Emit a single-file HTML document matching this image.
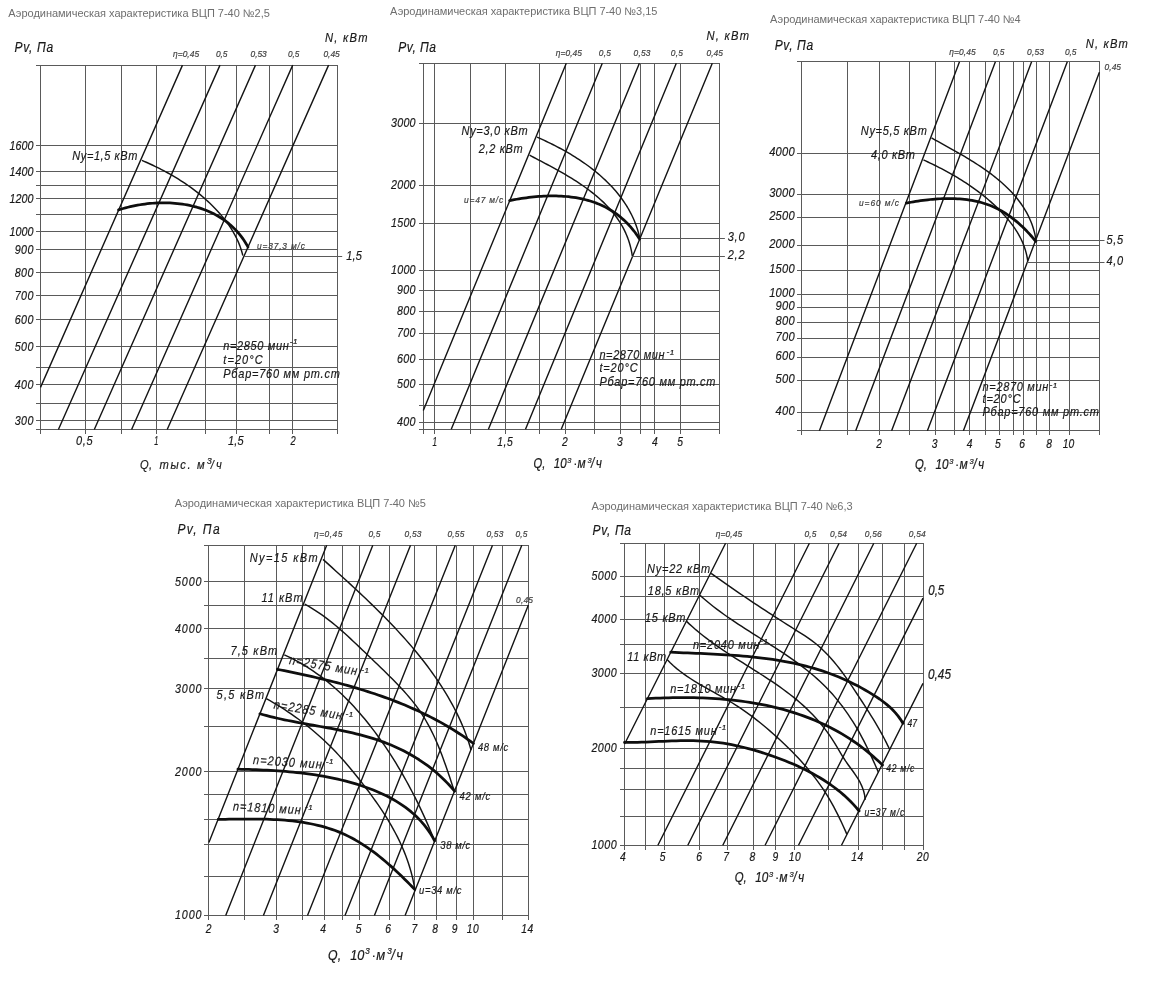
<!DOCTYPE html>
<html><head><meta charset="utf-8"><style>
html,body{margin:0;padding:0;background:#fff;}
svg{display:block;filter:grayscale(1);}
text{font-family:"Liberation Sans", sans-serif;}
</style></head><body>
<svg width="1152" height="982" viewBox="0 0 1152 982">
<rect width="1152" height="982" fill="#fff"/>
<path d="M36 65.5H338M36 145.5H338M36 171.5H338M36 185.5H338M36 198.5H338M36 214.5H338M36 231.5H338M36 249.5H338M36 272.5H338M36 295.5H338M36 319.5H338M36 346.5H338M36 367.5H338M36 384.5H338M36 403.5H338M36 420.5H338M36 429.5H338M40.5 65V434M85.5 65V434M121.5 65V434M156.5 65V434M205.5 65V434M236.5 65V434M269.5 65V434M292.5 65V434M337.5 65V434" stroke="#5a5a5a" stroke-width="1.0" fill="none"/>
<path d="M182.5 65.1L40.5 387.4M220 65.1L58.4 429.5M255.5 65.1L94.3 429.5M292.7 65.1L131.6 429.5M328.6 65.1L167.2 429.5" stroke="#141414" stroke-width="1.4" fill="none"/>
<path d="M244 256.5L342.2 256.5" stroke="#5a5a5a" stroke-width="1.0" fill="none"/>
<path d="M141.9 160.4 L144.08 161.33 L146.27 162.27 L148.45 163.25 L150.63 164.24 L152.81 165.25 L154.99 166.29 L157.16 167.35 L159.33 168.44 L161.49 169.54 L163.65 170.67 L165.8 171.82 L167.95 172.99 L170.08 174.19 L172.21 175.41 L174.32 176.65 L176.43 177.92 L178.52 179.21 L180.6 180.52 L182.66 181.85 L184.71 183.21 L186.75 184.59 L188.77 186 L190.77 187.43 L192.75 188.88 L194.72 190.35 L196.66 191.85 L198.58 193.38 L200.49 194.92 L202.37 196.49 L204.22 198.09 L206.05 199.71 L207.86 201.35 L209.64 203.02 L211.4 204.71 L213.12 206.42 L214.82 208.16 L216.49 209.93 L218.13 211.71 L219.73 213.53 L221.31 215.36 L222.85 217.23 L224.36 219.11 L225.83 221.02 L227.27 222.96 L228.66 224.93 L230.02 226.92 L231.33 228.93 L232.6 230.98 L233.81 233.05 L234.98 235.16 L236.09 237.29 L237.15 239.45 L238.15 241.65 L239.09 243.87 L239.96 246.13 L240.78 248.42 L241.52 250.74 L242.2 253.1 L242.81 255.5" stroke="#141414" stroke-width="1.45" fill="none" stroke-linejoin="round"/>
<path d="M118.51 209.91 L120.81 209.2 L123.14 208.52 L125.49 207.87 L127.87 207.26 L130.26 206.68 L132.67 206.15 L135.09 205.65 L137.53 205.19 L139.98 204.76 L142.45 204.38 L144.92 204.04 L147.41 203.73 L149.9 203.47 L152.4 203.25 L154.9 203.08 L157.4 202.94 L159.91 202.85 L162.42 202.81 L164.93 202.81 L167.43 202.86 L169.93 202.95 L172.43 203.09 L174.92 203.27 L177.4 203.51 L179.87 203.79 L182.33 204.13 L184.77 204.51 L187.21 204.95 L189.63 205.43 L192.03 205.97 L194.41 206.56 L196.78 207.2 L199.12 207.9 L201.44 208.65 L203.74 209.46 L206.01 210.33 L208.25 211.24 L210.47 212.22 L212.66 213.26 L214.81 214.35 L216.94 215.5 L219.03 216.71 L221.08 217.98 L223.1 219.31 L225.08 220.71 L227.02 222.16 L228.92 223.68 L230.78 225.26 L232.59 226.91 L234.36 228.62 L236.08 230.39 L237.75 232.24 L239.38 234.14 L240.95 236.12 L242.47 238.16 L243.94 240.27 L245.35 242.45 L246.7 244.7 L248 247.02" stroke="#140c0c" stroke-width="2.75" fill="none" stroke-linecap="round" stroke-linejoin="round"/>
<path d="M419 63.5H720M419 123.5H720M419 185.5H720M419 223.5H720M419 270.5H720M419 290.5H720M419 311.5H720M419 333.5H720M419 359.5H720M419 384.5H720M419 405.5H720M419 422.5H720M419 429.5H720M423.5 63V434M434.5 63V434M470.5 63V434M505.5 63V434M539.5 63V434M565.5 63V434M594.5 63V434M620.5 63V434M640.5 63V434M654.5 63V434M680.5 63V434M719.5 63V434" stroke="#5a5a5a" stroke-width="1.0" fill="none"/>
<path d="M566.3 63.2L423.3 410.6M602.3 63.2L451.25 429.2M639.4 63.2L488.4 429.2M676.3 63.2L525.5 429.2M712.3 63.2L561.25 429.2" stroke="#141414" stroke-width="1.4" fill="none"/>
<path d="M639.7 238.5L724.9 238.5" stroke="#5a5a5a" stroke-width="1.0" fill="none"/>
<path d="M632.3 256.5L724.9 256.5" stroke="#5a5a5a" stroke-width="1.0" fill="none"/>
<path d="M537.11 137.2 L539.33 138.18 L541.56 139.18 L543.79 140.2 L546.03 141.24 L548.27 142.31 L550.51 143.4 L552.75 144.51 L554.99 145.65 L557.23 146.8 L559.46 147.99 L561.69 149.19 L563.92 150.42 L566.13 151.67 L568.34 152.95 L570.54 154.24 L572.73 155.57 L574.91 156.92 L577.07 158.29 L579.22 159.68 L581.36 161.11 L583.47 162.55 L585.57 164.02 L587.65 165.52 L589.71 167.04 L591.75 168.59 L593.77 170.16 L595.76 171.76 L597.72 173.39 L599.67 175.04 L601.58 176.71 L603.46 178.42 L605.32 180.15 L607.14 181.9 L608.93 183.69 L610.68 185.5 L612.41 187.34 L614.09 189.2 L615.74 191.1 L617.35 193.02 L618.92 194.97 L620.45 196.94 L621.94 198.95 L623.38 200.98 L624.78 203.04 L626.13 205.13 L627.44 207.25 L628.7 209.4 L629.91 211.58 L631.07 213.79 L632.17 216.02 L633.23 218.29 L634.23 220.58 L635.17 222.91 L636.06 225.26 L636.89 227.65 L637.66 230.07 L638.37 232.51 L639.02 234.99 L639.61 237.5" stroke="#141414" stroke-width="1.45" fill="none" stroke-linejoin="round"/>
<path d="M529.6 155.2 L531.76 156.34 L533.93 157.49 L536.11 158.64 L538.31 159.8 L540.52 160.96 L542.74 162.14 L544.97 163.32 L547.21 164.51 L549.45 165.71 L551.7 166.93 L553.95 168.15 L556.2 169.39 L558.44 170.64 L560.69 171.91 L562.93 173.19 L565.17 174.49 L567.39 175.8 L569.61 177.13 L571.82 178.48 L574.01 179.85 L576.19 181.23 L578.36 182.64 L580.5 184.07 L582.63 185.52 L584.74 186.99 L586.82 188.49 L588.88 190.01 L590.92 191.56 L592.92 193.13 L594.9 194.73 L596.85 196.35 L598.76 198 L600.65 199.69 L602.49 201.4 L604.3 203.14 L606.07 204.91 L607.8 206.71 L609.49 208.55 L611.13 210.42 L612.73 212.33 L614.28 214.27 L615.78 216.24 L617.24 218.25 L618.64 220.3 L619.98 222.39 L621.28 224.51 L622.51 226.68 L623.69 228.88 L624.8 231.13 L625.86 233.41 L626.85 235.74 L627.78 238.12 L628.64 240.53 L629.43 243 L630.15 245.5 L630.8 248.06 L631.38 250.66 L631.88 253.31 L632.3 256" stroke="#141414" stroke-width="1.45" fill="none" stroke-linejoin="round"/>
<path d="M509.6 200.61 L511.95 200.15 L514.31 199.7 L516.69 199.27 L519.09 198.86 L521.5 198.47 L523.93 198.11 L526.37 197.77 L528.83 197.45 L531.29 197.16 L533.76 196.9 L536.24 196.67 L538.73 196.46 L541.22 196.29 L543.72 196.15 L546.22 196.04 L548.72 195.97 L551.22 195.93 L553.72 195.92 L556.22 195.96 L558.71 196.03 L561.2 196.15 L563.68 196.3 L566.15 196.5 L568.62 196.74 L571.07 197.02 L573.52 197.35 L575.95 197.73 L578.37 198.16 L580.77 198.63 L583.15 199.15 L585.52 199.73 L587.87 200.35 L590.2 201.03 L592.5 201.77 L594.78 202.56 L597.04 203.41 L599.28 204.31 L601.48 205.28 L603.66 206.3 L605.81 207.39 L607.93 208.53 L610.01 209.74 L612.07 211.01 L614.09 212.34 L616.07 213.73 L618.02 215.17 L619.93 216.68 L621.8 218.24 L623.64 219.86 L625.43 221.54 L627.19 223.27 L628.9 225.06 L630.56 226.91 L632.19 228.81 L633.76 230.77 L635.29 232.78 L636.78 234.84 L638.21 236.96 L639.59 239.13" stroke="#140c0c" stroke-width="2.75" fill="none" stroke-linecap="round" stroke-linejoin="round"/>
<path d="M797 61.5H1100M797 153.5H1100M797 194.5H1100M797 217.5H1100M797 245.5H1100M797 270.5H1100M797 294.5H1100M797 307.5H1100M797 322.5H1100M797 338.5H1100M797 357.5H1100M797 380.5H1100M797 412.5H1100M797 430.5H1100M801.5 61V435M847.5 61V435M879.5 61V435M909.5 61V435M935.5 61V435M954.5 61V435M969.5 61V435M985.5 61V435M999.5 61V435M1013.5 61V435M1023.5 61V435M1036.5 61V435M1049.5 61V435M1069.5 61V435M1099.5 61V435" stroke="#5a5a5a" stroke-width="1.0" fill="none"/>
<path d="M959.5 61.8L819.4 430.7M995.4 61.8L855.7 430.7M1031.6 61.8L891.6 430.7M1067.3 61.8L927.4 430.7M1099.4 72.3L963.4 430.7" stroke="#141414" stroke-width="1.4" fill="none"/>
<path d="M1035.3 240.5L1104.5 240.5" stroke="#5a5a5a" stroke-width="1.0" fill="none"/>
<path d="M1027.2 262.5L1104.5 262.5" stroke="#5a5a5a" stroke-width="1.0" fill="none"/>
<path d="M931.51 137.9 L933.62 139.08 L935.75 140.26 L937.9 141.46 L940.06 142.66 L942.24 143.86 L944.44 145.08 L946.64 146.3 L948.86 147.53 L951.09 148.78 L953.32 150.03 L955.56 151.3 L957.8 152.58 L960.04 153.87 L962.28 155.17 L964.52 156.49 L966.76 157.83 L969 159.18 L971.22 160.55 L973.44 161.93 L975.65 163.33 L977.84 164.75 L980.03 166.19 L982.2 167.65 L984.35 169.13 L986.48 170.62 L988.59 172.15 L990.68 173.69 L992.75 175.26 L994.79 176.85 L996.8 178.46 L998.79 180.1 L1000.75 181.77 L1002.67 183.46 L1004.56 185.18 L1006.41 186.92 L1008.23 188.7 L1010.01 190.5 L1011.75 192.33 L1013.44 194.2 L1015.1 196.09 L1016.7 198.02 L1018.26 199.98 L1019.77 201.97 L1021.23 204 L1022.64 206.06 L1023.99 208.15 L1025.29 210.28 L1026.52 212.45 L1027.7 214.66 L1028.82 216.9 L1029.87 219.18 L1030.86 221.5 L1031.78 223.86 L1032.64 226.26 L1033.42 228.7 L1034.13 231.19 L1034.77 233.71 L1035.33 236.28 L1035.81 238.9" stroke="#141414" stroke-width="1.45" fill="none" stroke-linejoin="round"/>
<path d="M923.41 159.9 L925.66 160.93 L927.92 161.98 L930.18 163.05 L932.45 164.14 L934.71 165.25 L936.98 166.38 L939.24 167.53 L941.5 168.71 L943.76 169.9 L946.01 171.11 L948.26 172.34 L950.5 173.6 L952.73 174.87 L954.96 176.17 L957.17 177.49 L959.38 178.82 L961.58 180.19 L963.76 181.57 L965.93 182.98 L968.09 184.4 L970.23 185.86 L972.35 187.33 L974.46 188.83 L976.55 190.35 L978.62 191.89 L980.67 193.46 L982.7 195.05 L984.71 196.66 L986.7 198.3 L988.66 199.96 L990.6 201.65 L992.51 203.36 L994.39 205.09 L996.25 206.86 L998.08 208.64 L999.88 210.45 L1001.64 212.29 L1003.38 214.15 L1005.08 216.04 L1006.75 217.95 L1008.39 219.89 L1009.98 221.86 L1011.53 223.86 L1013.03 225.89 L1014.49 227.95 L1015.89 230.05 L1017.23 232.18 L1018.52 234.34 L1019.74 236.55 L1020.89 238.79 L1021.97 241.07 L1022.98 243.39 L1023.91 245.75 L1024.77 248.16 L1025.54 250.61 L1026.22 253.11 L1026.81 255.66 L1027.31 258.25 L1027.7 260.9" stroke="#141414" stroke-width="1.45" fill="none" stroke-linejoin="round"/>
<path d="M906.3 203.1 L908.62 202.66 L910.97 202.23 L913.33 201.82 L915.7 201.42 L918.09 201.05 L920.5 200.69 L922.92 200.36 L925.34 200.05 L927.78 199.76 L930.23 199.5 L932.68 199.27 L935.14 199.07 L937.6 198.89 L940.07 198.75 L942.53 198.64 L945 198.57 L947.47 198.53 L949.94 198.53 L952.4 198.57 L954.86 198.65 L957.32 198.77 L959.76 198.93 L962.2 199.13 L964.63 199.39 L967.05 199.68 L969.45 200.03 L971.85 200.43 L974.22 200.88 L976.58 201.38 L978.93 201.93 L981.26 202.54 L983.56 203.21 L985.85 203.94 L988.11 204.72 L990.35 205.57 L992.57 206.47 L994.75 207.45 L996.92 208.48 L999.05 209.58 L1001.16 210.74 L1003.24 211.95 L1005.29 213.22 L1007.31 214.55 L1009.31 215.92 L1011.28 217.35 L1013.22 218.82 L1015.13 220.34 L1017.01 221.91 L1018.87 223.51 L1020.69 225.16 L1022.49 226.84 L1024.26 228.56 L1026 230.31 L1027.7 232.09 L1029.38 233.9 L1031.03 235.74 L1032.65 237.61 L1034.24 239.5 L1035.8 241.41" stroke="#140c0c" stroke-width="2.75" fill="none" stroke-linecap="round" stroke-linejoin="round"/>
<path d="M204 545.5H529M204 581.5H529M204 605.5H529M204 628.5H529M204 658.5H529M204 688.5H529M204 726.5H529M204 771.5H529M204 794.5H529M204 819.5H529M204 844.5H529M204 876.5H529M204 915.5H529M208.5 545V920M244.5 545V920M276.5 545V920M302.5 545V920M324.5 545V920M342.5 545V920M359.5 545V920M389.5 545V920M414.5 545V920M436.5 545V920M456.5 545V920M473.5 545V920M502.5 545V920M528.5 545V920" stroke="#5a5a5a" stroke-width="1.0" fill="none"/>
<path d="M326.7 545.2L208.9 842.6M372.8 545.2L225.7 915.4M410.5 545.2L263.4 915.4M455.3 545.2L307.5 915.4M492.5 545.2L345 915.4M521.8 545.2L374.4 915.4M528.4 605.1L405.1 915.4" stroke="#141414" stroke-width="1.4" fill="none"/>
<path d="M323 559.4 L326.05 562.15 L329.1 564.9 L332.15 567.66 L335.21 570.43 L338.27 573.2 L341.33 575.98 L344.39 578.77 L347.45 581.57 L350.51 584.38 L353.56 587.2 L356.6 590.03 L359.64 592.87 L362.67 595.72 L365.69 598.59 L368.7 601.47 L371.7 604.36 L374.68 607.27 L377.65 610.19 L380.61 613.13 L383.55 616.08 L386.47 619.05 L389.37 622.04 L392.25 625.05 L395.12 628.08 L397.95 631.12 L400.77 634.19 L403.55 637.27 L406.32 640.38 L409.05 643.5 L411.76 646.65 L414.43 649.83 L417.08 653.02 L419.69 656.24 L422.26 659.49 L424.81 662.75 L427.31 666.05 L429.78 669.37 L432.21 672.72 L434.6 676.09 L436.95 679.5 L439.26 682.93 L441.52 686.39 L443.74 689.88 L445.91 693.4 L448.02 696.95 L450.09 700.53 L452.09 704.14 L454.04 707.78 L455.93 711.45 L457.76 715.16 L459.52 718.9 L461.22 722.67 L462.85 726.47 L464.4 730.31 L465.88 734.18 L467.29 738.08 L468.62 742.02 L469.86 745.99 L471.03 750" stroke="#141414" stroke-width="1.45" fill="none" stroke-linejoin="round"/>
<path d="M304.7 604.2 L308.37 606.24 L311.95 608.36 L315.47 610.57 L318.92 612.85 L322.3 615.21 L325.63 617.63 L328.9 620.12 L332.13 622.66 L335.31 625.26 L338.45 627.9 L341.55 630.59 L344.62 633.32 L347.67 636.08 L350.7 638.87 L353.7 641.69 L356.7 644.52 L359.68 647.37 L362.66 650.23 L365.65 653.1 L368.63 655.97 L371.63 658.83 L374.62 661.7 L377.61 664.58 L380.6 667.46 L383.58 670.35 L386.54 673.25 L389.48 676.17 L392.41 679.1 L395.3 682.06 L398.17 685.03 L401 688.04 L403.8 691.07 L406.54 694.13 L409.23 697.24 L411.86 700.39 L414.41 703.59 L416.88 706.84 L419.27 710.16 L421.56 713.54 L423.75 716.99 L425.85 720.5 L427.87 724.06 L429.81 727.68 L431.67 731.34 L433.47 735.05 L435.19 738.8 L436.85 742.58 L438.46 746.4 L440.01 750.25 L441.52 754.11 L442.98 758 L444.4 761.9 L445.79 765.82 L447.16 769.74 L448.49 773.66 L449.81 777.58 L451.11 781.5 L452.41 785.41 L453.7 789.3" stroke="#141414" stroke-width="1.45" fill="none" stroke-linejoin="round"/>
<path d="M284.3 654.79 L288.13 656.58 L291.9 658.45 L295.62 660.39 L299.28 662.41 L302.88 664.5 L306.43 666.66 L309.92 668.89 L313.36 671.18 L316.75 673.54 L320.09 675.96 L323.38 678.45 L326.62 681 L329.8 683.6 L332.94 686.27 L336.04 688.98 L339.08 691.75 L342.08 694.58 L345.04 697.45 L347.95 700.37 L350.82 703.34 L353.64 706.36 L356.43 709.42 L359.17 712.52 L361.87 715.66 L364.53 718.83 L367.15 722.05 L369.74 725.3 L372.29 728.58 L374.8 731.9 L377.27 735.24 L379.71 738.62 L382.12 742.02 L384.49 745.45 L386.83 748.9 L389.13 752.38 L391.4 755.88 L393.63 759.4 L395.83 762.95 L398 766.52 L400.13 770.1 L402.24 773.71 L404.3 777.33 L406.34 780.98 L408.34 784.63 L410.31 788.31 L412.25 791.99 L414.16 795.69 L416.03 799.4 L417.88 803.13 L419.69 806.86 L421.47 810.61 L423.22 814.36 L424.94 818.12 L426.62 821.89 L428.28 825.66 L429.91 829.44 L431.5 833.22 L433.07 837.01 L434.61 840.79" stroke="#141414" stroke-width="1.45" fill="none" stroke-linejoin="round"/>
<path d="M266.3 698.6 L269.99 700.68 L273.65 702.81 L277.27 704.98 L280.86 707.2 L284.41 709.46 L287.92 711.78 L291.4 714.13 L294.84 716.54 L298.24 718.99 L301.6 721.49 L304.92 724.03 L308.2 726.63 L311.44 729.27 L314.64 731.95 L317.8 734.68 L320.91 737.46 L323.99 740.29 L327.02 743.16 L330 746.08 L332.95 749.05 L335.85 752.07 L338.7 755.12 L341.52 758.22 L344.3 761.35 L347.05 764.52 L349.77 767.73 L352.45 770.96 L355.11 774.21 L357.74 777.49 L360.36 780.79 L362.95 784.11 L365.51 787.45 L368.05 790.8 L370.57 794.18 L373.05 797.57 L375.49 800.99 L377.9 804.44 L380.26 807.91 L382.58 811.4 L384.85 814.92 L387.07 818.47 L389.24 822.05 L391.35 825.66 L393.4 829.3 L395.38 832.98 L397.3 836.69 L399.15 840.43 L400.92 844.21 L402.62 848.03 L404.24 851.88 L405.77 855.78 L407.22 859.71 L408.59 863.69 L409.85 867.71 L411.03 871.78 L412.1 875.89 L413.07 880.04 L413.94 884.25 L414.7 888.5" stroke="#141414" stroke-width="1.45" fill="none" stroke-linejoin="round"/>
<path d="M277.3 669.3 L280.8 669.99 L284.3 670.69 L287.8 671.4 L291.31 672.12 L294.81 672.85 L298.31 673.59 L301.82 674.34 L305.32 675.11 L308.83 675.88 L312.33 676.67 L315.83 677.48 L319.32 678.3 L322.82 679.13 L326.31 679.98 L329.8 680.84 L333.28 681.72 L336.77 682.62 L340.24 683.54 L343.71 684.48 L347.18 685.43 L350.64 686.4 L354.09 687.4 L357.53 688.41 L360.97 689.45 L364.4 690.5 L367.83 691.58 L371.24 692.69 L374.65 693.81 L378.04 694.96 L381.43 696.14 L384.81 697.34 L388.17 698.56 L391.53 699.82 L394.87 701.09 L398.2 702.4 L401.52 703.74 L404.83 705.1 L408.12 706.49 L411.4 707.92 L414.66 709.37 L417.92 710.85 L421.15 712.37 L424.37 713.92 L427.58 715.5 L430.77 717.11 L433.94 718.76 L437.1 720.44 L440.24 722.16 L443.36 723.91 L446.46 725.7 L449.54 727.52 L452.61 729.38 L455.65 731.28 L458.68 733.22 L461.69 735.2 L464.67 737.22 L467.63 739.27 L470.58 741.37 L473.5 743.51" stroke="#140c0c" stroke-width="2.75" fill="none" stroke-linecap="round" stroke-linejoin="round"/>
<path d="M259.9 713.8 L263.35 714.77 L266.81 715.7 L270.3 716.58 L273.8 717.43 L277.32 718.24 L280.85 719.03 L284.39 719.78 L287.95 720.51 L291.52 721.22 L295.1 721.91 L298.68 722.58 L302.27 723.24 L305.87 723.9 L309.47 724.54 L313.08 725.19 L316.68 725.83 L320.29 726.48 L323.89 727.13 L327.5 727.79 L331.1 728.46 L334.69 729.15 L338.28 729.86 L341.86 730.59 L345.43 731.34 L349 732.13 L352.55 732.94 L356.09 733.79 L359.61 734.67 L363.12 735.6 L366.61 736.56 L370.09 737.58 L373.54 738.64 L376.98 739.76 L380.39 740.93 L383.78 742.16 L387.15 743.45 L390.49 744.8 L393.8 746.21 L397.08 747.68 L400.34 749.22 L403.56 750.81 L406.75 752.48 L409.9 754.2 L413.02 755.99 L416.11 757.85 L419.15 759.77 L422.15 761.77 L425.12 763.83 L428.04 765.96 L430.92 768.15 L433.75 770.42 L436.53 772.76 L439.27 775.18 L441.96 777.66 L444.59 780.22 L447.18 782.86 L449.71 785.56 L452.18 788.35 L454.6 791.21" stroke="#140c0c" stroke-width="2.75" fill="none" stroke-linecap="round" stroke-linejoin="round"/>
<path d="M237.91 769.2 L241.49 769.28 L245.09 769.37 L248.71 769.48 L252.35 769.6 L256.01 769.73 L259.68 769.88 L263.36 770.04 L267.06 770.22 L270.76 770.43 L274.48 770.65 L278.2 770.9 L281.93 771.17 L285.67 771.47 L289.4 771.8 L293.15 772.15 L296.89 772.54 L300.63 772.95 L304.37 773.4 L308.11 773.88 L311.85 774.4 L315.58 774.96 L319.3 775.55 L323.01 776.18 L326.71 776.86 L330.41 777.58 L334.09 778.34 L337.75 779.15 L341.4 780 L345.04 780.91 L348.65 781.86 L352.25 782.86 L355.83 783.92 L359.38 785.03 L362.91 786.2 L366.42 787.43 L369.9 788.71 L373.35 790.05 L376.78 791.46 L380.16 792.93 L383.51 794.47 L386.82 796.08 L390.07 797.77 L393.28 799.54 L396.43 801.38 L399.53 803.31 L402.56 805.33 L405.53 807.44 L408.43 809.63 L411.25 811.93 L414 814.32 L416.67 816.82 L419.25 819.42 L421.74 822.12 L424.14 824.94 L426.44 827.87 L428.65 830.92 L430.74 834.09 L432.73 837.38 L434.61 840.79" stroke="#140c0c" stroke-width="2.75" fill="none" stroke-linecap="round" stroke-linejoin="round"/>
<path d="M218.2 819.41 L221.8 819.35 L225.43 819.29 L229.07 819.23 L232.73 819.17 L236.41 819.12 L240.11 819.07 L243.81 819.03 L247.53 819.01 L251.25 819.01 L254.99 819.02 L258.72 819.06 L262.47 819.13 L266.21 819.22 L269.95 819.35 L273.69 819.51 L277.43 819.71 L281.16 819.95 L284.89 820.24 L288.6 820.57 L292.31 820.95 L296 821.39 L299.67 821.88 L303.33 822.43 L306.98 823.05 L310.6 823.73 L314.2 824.48 L317.77 825.3 L321.33 826.19 L324.85 827.16 L328.34 828.21 L331.81 829.35 L335.24 830.57 L338.63 831.89 L341.99 833.29 L345.31 834.79 L348.6 836.38 L351.84 838.06 L355.05 839.82 L358.22 841.67 L361.36 843.59 L364.46 845.58 L367.53 847.64 L370.56 849.77 L373.55 851.96 L376.52 854.2 L379.45 856.5 L382.34 858.84 L385.21 861.23 L388.04 863.67 L390.84 866.14 L393.61 868.64 L396.34 871.17 L399.05 873.73 L401.73 876.32 L404.38 878.92 L407 881.53 L409.59 884.15 L412.15 886.78 L414.69 889.42" stroke="#140c0c" stroke-width="2.75" fill="none" stroke-linecap="round" stroke-linejoin="round"/>
<path d="M620 543.5H924M620 576.5H924M620 596.5H924M620 619.5H924M620 644.5H924M620 673.5H924M620 707.5H924M620 748.5H924M620 768.5H924M620 789.5H924M620 816.5H924M620 845.5H924M624.5 543V850M645.5 543V850M664.5 543V850M699.5 543V850M727.5 543V850M753.5 543V850M775.5 543V850M794.5 543V850M828.5 543V850M858.5 543V850M882.5 543V850M904.5 543V850M923.5 543V850" stroke="#5a5a5a" stroke-width="1.0" fill="none"/>
<path d="M725.6 543.3L624.6 744M809.4 543.3L657.9 845.3M839.1 543.3L687.8 845.3M873.8 543.3L722.8 845.3M916.7 543.3L765.1 845.3M923 598.1L798.5 845.3M923 683.4L841.5 845.3" stroke="#141414" stroke-width="1.4" fill="none"/>
<path d="M711.11 573.39 L714.63 575.92 L718.16 578.44 L721.7 580.95 L725.26 583.45 L728.82 585.93 L732.39 588.4 L735.97 590.87 L739.56 593.32 L743.16 595.76 L746.76 598.2 L750.37 600.62 L753.99 603.03 L757.62 605.43 L761.25 607.83 L764.88 610.21 L768.53 612.59 L772.17 614.95 L775.82 617.31 L779.48 619.66 L783.14 622.01 L786.8 624.34 L790.47 626.67 L794.13 628.99 L797.8 631.3 L801.46 633.62 L805.09 635.98 L808.66 638.4 L812.16 640.9 L815.57 643.53 L818.87 646.28 L822.07 649.16 L825.16 652.16 L828.17 655.26 L831.08 658.46 L833.92 661.75 L836.68 665.12 L839.38 668.56 L842.02 672.05 L844.6 675.6 L847.13 679.19 L849.62 682.81 L852.08 686.44 L854.51 690.09 L856.92 693.74 L859.31 697.39 L861.69 701.02 L864.05 704.65 L866.39 708.27 L868.71 711.91 L870.99 715.56 L873.25 719.22 L875.48 722.91 L877.66 726.62 L879.81 730.37 L881.91 734.16 L883.96 737.99 L885.96 741.87 L887.91 745.81 L889.8 749.8" stroke="#141414" stroke-width="1.45" fill="none" stroke-linejoin="round"/>
<path d="M700.11 595.4 L703.32 598.26 L706.59 601.05 L709.92 603.79 L713.3 606.47 L716.73 609.1 L720.2 611.69 L723.71 614.24 L727.26 616.74 L730.85 619.22 L734.46 621.66 L738.1 624.07 L741.75 626.47 L745.43 628.85 L749.12 631.21 L752.82 633.56 L756.53 635.9 L760.24 638.24 L763.95 640.59 L767.66 642.94 L771.35 645.3 L775.04 647.67 L778.71 650.06 L782.35 652.47 L785.98 654.9 L789.58 657.37 L793.14 659.87 L796.67 662.4 L800.17 664.98 L803.62 667.6 L807.02 670.27 L810.38 672.99 L813.68 675.77 L816.92 678.61 L820.1 681.52 L823.22 684.49 L826.27 687.54 L829.25 690.66 L832.15 693.86 L834.98 697.12 L837.75 700.46 L840.44 703.85 L843.07 707.31 L845.62 710.83 L848.11 714.4 L850.53 718.03 L852.89 721.7 L855.18 725.42 L857.41 729.18 L859.57 732.98 L861.67 736.81 L863.71 740.68 L865.69 744.58 L867.62 748.5 L869.49 752.44 L871.33 756.39 L873.13 760.35 L874.9 764.31 L876.65 768.26 L878.38 772.21" stroke="#141414" stroke-width="1.45" fill="none" stroke-linejoin="round"/>
<path d="M686.3 621.1 L689.48 624.12 L692.73 627.06 L696.03 629.93 L699.4 632.73 L702.81 635.47 L706.27 638.15 L709.78 640.77 L713.32 643.35 L716.91 645.88 L720.52 648.36 L724.16 650.82 L727.83 653.24 L731.51 655.64 L735.22 658.02 L738.93 660.38 L742.66 662.73 L746.38 665.08 L750.11 667.42 L753.84 669.77 L757.56 672.12 L761.26 674.49 L764.95 676.87 L768.62 679.28 L772.27 681.72 L775.89 684.18 L779.48 686.69 L783.04 689.23 L786.55 691.82 L790.02 694.47 L793.45 697.17 L796.82 699.93 L800.14 702.75 L803.4 705.65 L806.6 708.62 L809.73 711.67 L812.79 714.81 L815.78 718.03 L818.69 721.32 L821.52 724.69 L824.26 728.14 L826.92 731.64 L829.49 735.21 L831.97 738.84 L834.35 742.52 L836.64 746.26 L838.85 750.02 L841.04 753.79 L843.29 757.51 L845.66 761.15 L848.16 764.71 L850.73 768.23 L853.29 771.75 L855.77 775.3 L858.11 778.94 L860.24 782.7 L862.08 786.63 L863.57 790.76 L864.63 795.13 L865.2 799.8" stroke="#141414" stroke-width="1.45" fill="none" stroke-linejoin="round"/>
<path d="M667.1 659.6 L670.2 662.75 L673.41 665.74 L676.71 668.58 L680.11 671.29 L683.58 673.89 L687.13 676.37 L690.74 678.77 L694.4 681.09 L698.11 683.34 L701.85 685.53 L705.63 687.69 L709.41 689.82 L713.21 691.93 L717.01 694.05 L720.8 696.17 L724.57 698.32 L728.32 700.51 L732.03 702.75 L735.69 705.05 L739.31 707.41 L742.89 709.83 L746.43 712.31 L749.93 714.85 L753.39 717.44 L756.81 720.08 L760.19 722.77 L763.54 725.5 L766.85 728.28 L770.14 731.1 L773.39 733.96 L776.61 736.86 L779.8 739.79 L782.97 742.75 L786.1 745.75 L789.2 748.78 L792.27 751.85 L795.29 754.96 L798.27 758.11 L801.2 761.3 L804.09 764.53 L806.92 767.8 L809.69 771.11 L812.41 774.48 L815.07 777.89 L817.66 781.34 L820.18 784.85 L822.64 788.41 L825.02 792.02 L827.32 795.68 L829.55 799.39 L831.7 803.15 L833.79 806.95 L835.82 810.79 L837.79 814.67 L839.7 818.57 L841.57 822.5 L843.39 826.45 L845.16 830.42 L846.9 834.4" stroke="#141414" stroke-width="1.45" fill="none" stroke-linejoin="round"/>
<path d="M670.7 652.2 L674.92 652.39 L679.15 652.58 L683.38 652.76 L687.63 652.94 L691.87 653.12 L696.13 653.3 L700.38 653.48 L704.64 653.67 L708.91 653.87 L713.17 654.08 L717.44 654.3 L721.7 654.54 L725.97 654.8 L730.23 655.08 L734.5 655.37 L738.76 655.7 L743.02 656.05 L747.27 656.43 L751.52 656.84 L755.76 657.29 L760 657.77 L764.23 658.29 L768.45 658.86 L772.66 659.46 L776.86 660.11 L781.06 660.81 L785.24 661.56 L789.41 662.36 L793.57 663.21 L797.71 664.13 L801.84 665.1 L805.96 666.13 L810.06 667.23 L814.15 668.39 L818.21 669.62 L822.26 670.92 L826.29 672.29 L830.3 673.74 L834.29 675.25 L838.25 676.84 L842.18 678.5 L846.08 680.23 L849.95 682.03 L853.79 683.9 L857.59 685.84 L861.36 687.86 L865.08 689.94 L868.76 692.1 L872.4 694.32 L875.99 696.62 L879.52 699 L882.96 701.49 L886.29 704.1 L889.5 706.84 L892.57 709.75 L895.46 712.82 L898.16 716.1 L900.65 719.58 L902.91 723.29" stroke="#140c0c" stroke-width="2.75" fill="none" stroke-linecap="round" stroke-linejoin="round"/>
<path d="M647.4 698.6 L651.61 698.39 L655.83 698.2 L660.06 698.03 L664.3 697.89 L668.55 697.77 L672.81 697.68 L677.08 697.63 L681.35 697.6 L685.63 697.6 L689.92 697.64 L694.2 697.72 L698.49 697.82 L702.78 697.97 L707.07 698.15 L711.36 698.38 L715.65 698.64 L719.93 698.95 L724.21 699.29 L728.49 699.69 L732.76 700.13 L737.02 700.62 L741.27 701.15 L745.52 701.74 L749.75 702.37 L753.98 703.06 L758.19 703.8 L762.38 704.6 L766.57 705.45 L770.74 706.36 L774.89 707.33 L779.02 708.36 L783.14 709.45 L787.23 710.6 L791.31 711.82 L795.36 713.1 L799.4 714.45 L803.4 715.87 L807.39 717.35 L811.35 718.9 L815.28 720.53 L819.18 722.23 L823.05 724 L826.89 725.84 L830.7 727.75 L834.48 729.74 L838.21 731.8 L841.91 733.93 L845.56 736.13 L849.17 738.41 L852.74 740.76 L856.26 743.17 L859.73 745.66 L863.15 748.23 L866.52 750.86 L869.83 753.56 L873.09 756.34 L876.29 759.19 L879.43 762.11 L882.51 765.1" stroke="#140c0c" stroke-width="2.75" fill="none" stroke-linecap="round" stroke-linejoin="round"/>
<path d="M624.5 742.41 L628.78 742.41 L633.08 742.37 L637.38 742.28 L641.68 742.16 L645.99 742.01 L650.3 741.84 L654.62 741.66 L658.94 741.48 L663.25 741.3 L667.57 741.12 L671.89 740.97 L676.2 740.84 L680.51 740.74 L684.82 740.68 L689.12 740.67 L693.42 740.72 L697.71 740.83 L701.99 741.01 L706.26 741.26 L710.52 741.61 L714.77 742.04 L719 742.57 L723.23 743.18 L727.45 743.88 L731.65 744.67 L735.84 745.53 L740.02 746.47 L744.19 747.48 L748.35 748.55 L752.49 749.69 L756.62 750.9 L760.75 752.16 L764.85 753.47 L768.95 754.83 L773.04 756.24 L777.1 757.71 L781.15 759.22 L785.18 760.79 L789.18 762.42 L793.16 764.1 L797.1 765.85 L801.01 767.67 L804.88 769.54 L808.71 771.49 L812.5 773.51 L816.24 775.6 L819.93 777.77 L823.58 780.02 L827.16 782.35 L830.69 784.76 L834.15 787.26 L837.54 789.85 L840.87 792.54 L844.12 795.34 L847.29 798.24 L850.38 801.25 L853.38 804.38 L856.29 807.63 L859.1 811" stroke="#140c0c" stroke-width="2.75" fill="none" stroke-linecap="round" stroke-linejoin="round"/>
<text transform="translate(8.3 16.8)" font-size="11" fill="#6e6e6e" stroke="#6e6e6e" stroke-width="0" textLength="261.5" lengthAdjust="spacing">Аэродинамическая характеристика ВЦП 7-40 №2,5</text>
<text transform="translate(14.6 51.6) scale(0.86 1)" font-size="14" fill="#1a1a1a" stroke="#1a1a1a" stroke-width="0.19" font-style="italic" textLength="44.77" lengthAdjust="spacing">Pv, Па</text>
<text transform="translate(325 41.7) scale(0.86 1)" font-size="13" fill="#1a1a1a" stroke="#1a1a1a" stroke-width="0.19" font-style="italic" textLength="49.42" lengthAdjust="spacing">N, кВт</text>
<text transform="translate(173 57.1) scale(0.86 1)" font-size="9.8" fill="#404040" stroke="#404040" stroke-width="0.2" font-style="italic" textLength="30.35" lengthAdjust="spacing">η=0,45</text>
<text transform="translate(215.9 57.1) scale(0.86 1)" font-size="9.8" fill="#404040" stroke="#404040" stroke-width="0.2" font-style="italic" textLength="13.37" lengthAdjust="spacing">0,5</text>
<text transform="translate(250.6 57.1) scale(0.86 1)" font-size="9.8" fill="#404040" stroke="#404040" stroke-width="0.2" font-style="italic" textLength="18.84" lengthAdjust="spacing">0,53</text>
<text transform="translate(288 57.1)" font-size="9.8" fill="#404040" stroke="#404040" stroke-width="0.2" font-style="italic" textLength="11.4" lengthAdjust="spacingAndGlyphs">0,5</text>
<text transform="translate(323.5 57.1) scale(0.86 1)" font-size="9.8" fill="#404040" stroke="#404040" stroke-width="0.2" font-style="italic" textLength="18.84" lengthAdjust="spacing">0,45</text>
<text transform="translate(9.4 149.9) scale(0.86 1)" font-size="12.5" fill="#1a1a1a" stroke="#1a1a1a" stroke-width="0.19" font-style="italic" textLength="27.91" lengthAdjust="spacing">1600</text>
<text transform="translate(9.4 176) scale(0.86 1)" font-size="12.5" fill="#1a1a1a" stroke="#1a1a1a" stroke-width="0.19" font-style="italic" textLength="27.91" lengthAdjust="spacing">1400</text>
<text transform="translate(9.4 202.5) scale(0.86 1)" font-size="12.5" fill="#1a1a1a" stroke="#1a1a1a" stroke-width="0.19" font-style="italic" textLength="27.91" lengthAdjust="spacing">1200</text>
<text transform="translate(9.4 235.8) scale(0.86 1)" font-size="12.5" fill="#1a1a1a" stroke="#1a1a1a" stroke-width="0.19" font-style="italic" textLength="27.91" lengthAdjust="spacing">1000</text>
<text transform="translate(14.8 253.8) scale(0.86 1)" font-size="12.5" fill="#1a1a1a" stroke="#1a1a1a" stroke-width="0.19" font-style="italic" textLength="21.63" lengthAdjust="spacing">900</text>
<text transform="translate(14.8 276.8) scale(0.86 1)" font-size="12.5" fill="#1a1a1a" stroke="#1a1a1a" stroke-width="0.19" font-style="italic" textLength="21.63" lengthAdjust="spacing">800</text>
<text transform="translate(14.8 299.8) scale(0.86 1)" font-size="12.5" fill="#1a1a1a" stroke="#1a1a1a" stroke-width="0.19" font-style="italic" textLength="21.63" lengthAdjust="spacing">700</text>
<text transform="translate(14.8 324) scale(0.86 1)" font-size="12.5" fill="#1a1a1a" stroke="#1a1a1a" stroke-width="0.19" font-style="italic" textLength="21.63" lengthAdjust="spacing">600</text>
<text transform="translate(14.8 351) scale(0.86 1)" font-size="12.5" fill="#1a1a1a" stroke="#1a1a1a" stroke-width="0.19" font-style="italic" textLength="21.63" lengthAdjust="spacing">500</text>
<text transform="translate(14.8 388.9) scale(0.86 1)" font-size="12.5" fill="#1a1a1a" stroke="#1a1a1a" stroke-width="0.19" font-style="italic" textLength="21.63" lengthAdjust="spacing">400</text>
<text transform="translate(14.8 424.8) scale(0.86 1)" font-size="12.5" fill="#1a1a1a" stroke="#1a1a1a" stroke-width="0.19" font-style="italic" textLength="21.63" lengthAdjust="spacing">300</text>
<text transform="translate(76.1 445.3) scale(0.86 1)" font-size="12.8" fill="#1a1a1a" stroke="#1a1a1a" stroke-width="0.19" font-style="italic" textLength="19.19" lengthAdjust="spacing">0,5</text>
<text transform="translate(154.3 445.3)" font-size="12.8" fill="#1a1a1a" stroke="#1a1a1a" stroke-width="0.22" font-style="italic" textLength="4.1" lengthAdjust="spacingAndGlyphs">1</text>
<text transform="translate(228 445.3) scale(0.86 1)" font-size="12.8" fill="#1a1a1a" stroke="#1a1a1a" stroke-width="0.19" font-style="italic" textLength="18.14" lengthAdjust="spacing">1,5</text>
<text transform="translate(290.5 445.3)" font-size="12.8" fill="#1a1a1a" stroke="#1a1a1a" stroke-width="0.22" font-style="italic" textLength="5.2" lengthAdjust="spacingAndGlyphs">2</text>
<text transform="translate(140 469.1) scale(0.86 1)" font-size="13" fill="#1a1a1a" stroke="#1a1a1a" stroke-width="0.19" font-style="italic" textLength="13.95" lengthAdjust="spacing">Q,</text>
<text transform="translate(159.6 469.1) scale(0.86 1)" font-size="13" fill="#1a1a1a" stroke="#1a1a1a" stroke-width="0.19" font-style="italic" textLength="36.05" lengthAdjust="spacing">тыс.</text>
<text transform="translate(196.9 469.1) scale(0.86 1)" font-size="13" fill="#1a1a1a" stroke="#1a1a1a" stroke-width="0.19" font-style="italic" textLength="11.05" lengthAdjust="spacing">м</text>
<text transform="translate(206.9 463.6)" font-size="8.5" fill="#1a1a1a" stroke="#1a1a1a" stroke-width="0.2" font-style="italic">3</text>
<text transform="translate(210.7 469.1) scale(0.86 1)" font-size="13" fill="#1a1a1a" stroke="#1a1a1a" stroke-width="0.19" font-style="italic" textLength="12.79" lengthAdjust="spacing">/ч</text>
<text transform="translate(72.3 159.8) scale(0.86 1)" font-size="12.8" fill="#1a1a1a" stroke="#1a1a1a" stroke-width="0.19" font-style="italic" textLength="75.7" lengthAdjust="spacing">Ny=1,5 кВт</text>
<text transform="translate(257 249) scale(0.86 1)" font-size="9.8" fill="#404040" stroke="#404040" stroke-width="0.2" font-style="italic" textLength="55.81" lengthAdjust="spacing">u=37,3 м/с</text>
<text transform="translate(346.2 260.3) scale(0.86 1)" font-size="12.8" fill="#1a1a1a" stroke="#1a1a1a" stroke-width="0.19" font-style="italic" textLength="18.37" lengthAdjust="spacing">1,5</text>
<text transform="translate(223.3 350.2) scale(0.86 1)" font-size="12.8" fill="#1a1a1a" stroke="#1a1a1a" stroke-width="0.19" font-style="italic" textLength="76.16" lengthAdjust="spacing">n=2850 мин</text>
<text transform="translate(223.3 364) scale(0.86 1)" font-size="12.8" fill="#1a1a1a" stroke="#1a1a1a" stroke-width="0.19" font-style="italic" textLength="45.81" lengthAdjust="spacing">t=20°C</text>
<text transform="translate(223.3 378.3) scale(0.86 1)" font-size="12.8" fill="#1a1a1a" stroke="#1a1a1a" stroke-width="0.19" font-style="italic" textLength="135.47" lengthAdjust="spacing">Рбар=760 мм рт.ст</text>
<text transform="translate(390.1 15)" font-size="11" fill="#6e6e6e" stroke="#6e6e6e" stroke-width="0" textLength="267.3" lengthAdjust="spacing">Аэродинамическая характеристика ВЦП 7-40 №3,15</text>
<text transform="translate(398.3 51.9) scale(0.86 1)" font-size="14" fill="#1a1a1a" stroke="#1a1a1a" stroke-width="0.19" font-style="italic" textLength="43.84" lengthAdjust="spacing">Pv, Па</text>
<text transform="translate(706.5 39.9) scale(0.86 1)" font-size="13" fill="#1a1a1a" stroke="#1a1a1a" stroke-width="0.19" font-style="italic" textLength="49.53" lengthAdjust="spacing">N, кВт</text>
<text transform="translate(555.7 55.6) scale(0.86 1)" font-size="9.8" fill="#404040" stroke="#404040" stroke-width="0.2" font-style="italic" textLength="30.58" lengthAdjust="spacing">η=0,45</text>
<text transform="translate(598.8 55.6) scale(0.86 1)" font-size="9.8" fill="#404040" stroke="#404040" stroke-width="0.2" font-style="italic" textLength="14.19" lengthAdjust="spacing">0,5</text>
<text transform="translate(633.6 55.6) scale(0.86 1)" font-size="9.8" fill="#404040" stroke="#404040" stroke-width="0.2" font-style="italic" textLength="19.53" lengthAdjust="spacing">0,53</text>
<text transform="translate(670.8 55.6) scale(0.86 1)" font-size="9.8" fill="#404040" stroke="#404040" stroke-width="0.2" font-style="italic" textLength="14.07" lengthAdjust="spacing">0,5</text>
<text transform="translate(706.5 55.6) scale(0.86 1)" font-size="9.8" fill="#404040" stroke="#404040" stroke-width="0.2" font-style="italic" textLength="19.19" lengthAdjust="spacing">0,45</text>
<text transform="translate(391.1 126.9) scale(0.86 1)" font-size="12.5" fill="#1a1a1a" stroke="#1a1a1a" stroke-width="0.19" font-style="italic" textLength="28.49" lengthAdjust="spacing">3000</text>
<text transform="translate(391.1 188.6) scale(0.86 1)" font-size="12.5" fill="#1a1a1a" stroke="#1a1a1a" stroke-width="0.19" font-style="italic" textLength="28.49" lengthAdjust="spacing">2000</text>
<text transform="translate(391.1 226.7) scale(0.86 1)" font-size="12.5" fill="#1a1a1a" stroke="#1a1a1a" stroke-width="0.19" font-style="italic" textLength="28.49" lengthAdjust="spacing">1500</text>
<text transform="translate(391.1 274.1) scale(0.86 1)" font-size="12.5" fill="#1a1a1a" stroke="#1a1a1a" stroke-width="0.19" font-style="italic" textLength="28.49" lengthAdjust="spacing">1000</text>
<text transform="translate(397 293.6) scale(0.86 1)" font-size="12.5" fill="#1a1a1a" stroke="#1a1a1a" stroke-width="0.19" font-style="italic" textLength="21.63" lengthAdjust="spacing">900</text>
<text transform="translate(397 314.8) scale(0.86 1)" font-size="12.5" fill="#1a1a1a" stroke="#1a1a1a" stroke-width="0.19" font-style="italic" textLength="21.63" lengthAdjust="spacing">800</text>
<text transform="translate(397 337) scale(0.86 1)" font-size="12.5" fill="#1a1a1a" stroke="#1a1a1a" stroke-width="0.19" font-style="italic" textLength="21.63" lengthAdjust="spacing">700</text>
<text transform="translate(397 362.6) scale(0.86 1)" font-size="12.5" fill="#1a1a1a" stroke="#1a1a1a" stroke-width="0.19" font-style="italic" textLength="21.63" lengthAdjust="spacing">600</text>
<text transform="translate(397 387.8) scale(0.86 1)" font-size="12.5" fill="#1a1a1a" stroke="#1a1a1a" stroke-width="0.19" font-style="italic" textLength="21.63" lengthAdjust="spacing">500</text>
<text transform="translate(397 426.4) scale(0.86 1)" font-size="12.5" fill="#1a1a1a" stroke="#1a1a1a" stroke-width="0.19" font-style="italic" textLength="21.63" lengthAdjust="spacing">400</text>
<text transform="translate(432.45 446)" font-size="12" fill="#1a1a1a" stroke="#1a1a1a" stroke-width="0.22" font-style="italic" textLength="4.5" lengthAdjust="spacingAndGlyphs">1</text>
<text transform="translate(497.25 446) scale(0.86 1)" font-size="12" fill="#1a1a1a" stroke="#1a1a1a" stroke-width="0.19" font-style="italic" textLength="18.02" lengthAdjust="spacing">1,5</text>
<text transform="translate(562.05 446) scale(0.86 1)" font-size="12" fill="#1a1a1a" stroke="#1a1a1a" stroke-width="0.19" font-style="italic" textLength="7.56" lengthAdjust="spacing">2</text>
<text transform="translate(616.95 446) scale(0.86 1)" font-size="12" fill="#1a1a1a" stroke="#1a1a1a" stroke-width="0.19" font-style="italic" textLength="7.56" lengthAdjust="spacing">3</text>
<text transform="translate(651.95 446) scale(0.86 1)" font-size="12" fill="#1a1a1a" stroke="#1a1a1a" stroke-width="0.19" font-style="italic" textLength="7.56" lengthAdjust="spacing">4</text>
<text transform="translate(677.35 446) scale(0.86 1)" font-size="12" fill="#1a1a1a" stroke="#1a1a1a" stroke-width="0.19" font-style="italic" textLength="7.56" lengthAdjust="spacing">5</text>
<text transform="translate(461.5 135.4) scale(0.86 1)" font-size="12.8" fill="#1a1a1a" stroke="#1a1a1a" stroke-width="0.19" font-style="italic" textLength="76.98" lengthAdjust="spacing">Ny=3,0 кВт</text>
<text transform="translate(478.8 153.2) scale(0.86 1)" font-size="12.8" fill="#1a1a1a" stroke="#1a1a1a" stroke-width="0.19" font-style="italic" textLength="50.93" lengthAdjust="spacing">2,2 кВт</text>
<text transform="translate(464 203.1) scale(0.86 1)" font-size="9.8" fill="#404040" stroke="#404040" stroke-width="0.2" font-style="italic" textLength="45.47" lengthAdjust="spacing">u=47 м/с</text>
<text transform="translate(727.7 240.8) scale(0.86 1)" font-size="12.8" fill="#1a1a1a" stroke="#1a1a1a" stroke-width="0.19" font-style="italic" textLength="19.65" lengthAdjust="spacing">3,0</text>
<text transform="translate(727.7 258.9) scale(0.86 1)" font-size="12.8" fill="#1a1a1a" stroke="#1a1a1a" stroke-width="0.19" font-style="italic" textLength="19.65" lengthAdjust="spacing">2,2</text>
<text transform="translate(599.4 358.5) scale(0.86 1)" font-size="12.8" fill="#1a1a1a" stroke="#1a1a1a" stroke-width="0.19" font-style="italic" textLength="75.81" lengthAdjust="spacing">n=2870 мин</text>
<text transform="translate(599.4 372.4) scale(0.86 1)" font-size="12.8" fill="#1a1a1a" stroke="#1a1a1a" stroke-width="0.19" font-style="italic" textLength="44.42" lengthAdjust="spacing">t=20°C</text>
<text transform="translate(599.4 386.3) scale(0.86 1)" font-size="12.8" fill="#1a1a1a" stroke="#1a1a1a" stroke-width="0.19" font-style="italic" textLength="134.88" lengthAdjust="spacing">Рбар=760 мм рт.ст</text>
<text transform="translate(770.1 22.6)" font-size="11" fill="#6e6e6e" stroke="#6e6e6e" stroke-width="0" textLength="250.6" lengthAdjust="spacing">Аэродинамическая характеристика ВЦП 7-40 №4</text>
<text transform="translate(774.7 50.4) scale(0.86 1)" font-size="14" fill="#1a1a1a" stroke="#1a1a1a" stroke-width="0.19" font-style="italic" textLength="44.77" lengthAdjust="spacing">Pv, Па</text>
<text transform="translate(1085.7 47.6) scale(0.86 1)" font-size="13" fill="#1a1a1a" stroke="#1a1a1a" stroke-width="0.19" font-style="italic" textLength="49.07" lengthAdjust="spacing">N, кВт</text>
<text transform="translate(949.2 54.9) scale(0.86 1)" font-size="9.8" fill="#404040" stroke="#404040" stroke-width="0.2" font-style="italic" textLength="30.81" lengthAdjust="spacing">η=0,45</text>
<text transform="translate(993 54.9) scale(0.86 1)" font-size="9.8" fill="#404040" stroke="#404040" stroke-width="0.2" font-style="italic" textLength="13.37" lengthAdjust="spacing">0,5</text>
<text transform="translate(1027 54.9) scale(0.86 1)" font-size="9.8" fill="#404040" stroke="#404040" stroke-width="0.2" font-style="italic" textLength="19.77" lengthAdjust="spacing">0,53</text>
<text transform="translate(1065 54.9) scale(0.86 1)" font-size="9.8" fill="#404040" stroke="#404040" stroke-width="0.2" font-style="italic" textLength="13.37" lengthAdjust="spacing">0,5</text>
<text transform="translate(1104.6 69.6) scale(0.86 1)" font-size="9.8" fill="#404040" stroke="#404040" stroke-width="0.2" font-style="italic" textLength="19.07" lengthAdjust="spacing">0,45</text>
<text transform="translate(769.2 155.8) scale(0.86 1)" font-size="13" fill="#1a1a1a" stroke="#1a1a1a" stroke-width="0.19" font-style="italic" textLength="29.65" lengthAdjust="spacing">4000</text>
<text transform="translate(769.2 196.9) scale(0.86 1)" font-size="13" fill="#1a1a1a" stroke="#1a1a1a" stroke-width="0.19" font-style="italic" textLength="29.65" lengthAdjust="spacing">3000</text>
<text transform="translate(769.2 220) scale(0.86 1)" font-size="13" fill="#1a1a1a" stroke="#1a1a1a" stroke-width="0.19" font-style="italic" textLength="29.65" lengthAdjust="spacing">2500</text>
<text transform="translate(769.2 248.3) scale(0.86 1)" font-size="13" fill="#1a1a1a" stroke="#1a1a1a" stroke-width="0.19" font-style="italic" textLength="29.65" lengthAdjust="spacing">2000</text>
<text transform="translate(769.2 273) scale(0.86 1)" font-size="13" fill="#1a1a1a" stroke="#1a1a1a" stroke-width="0.19" font-style="italic" textLength="29.65" lengthAdjust="spacing">1500</text>
<text transform="translate(769.2 297.3) scale(0.86 1)" font-size="13" fill="#1a1a1a" stroke="#1a1a1a" stroke-width="0.19" font-style="italic" textLength="29.65" lengthAdjust="spacing">1000</text>
<text transform="translate(775.5 310) scale(0.86 1)" font-size="13" fill="#1a1a1a" stroke="#1a1a1a" stroke-width="0.19" font-style="italic" textLength="22.33" lengthAdjust="spacing">900</text>
<text transform="translate(775.5 325.2) scale(0.86 1)" font-size="13" fill="#1a1a1a" stroke="#1a1a1a" stroke-width="0.19" font-style="italic" textLength="22.33" lengthAdjust="spacing">800</text>
<text transform="translate(775.5 340.8) scale(0.86 1)" font-size="13" fill="#1a1a1a" stroke="#1a1a1a" stroke-width="0.19" font-style="italic" textLength="22.33" lengthAdjust="spacing">700</text>
<text transform="translate(775.5 360) scale(0.86 1)" font-size="13" fill="#1a1a1a" stroke="#1a1a1a" stroke-width="0.19" font-style="italic" textLength="22.33" lengthAdjust="spacing">600</text>
<text transform="translate(775.5 383.1) scale(0.86 1)" font-size="13" fill="#1a1a1a" stroke="#1a1a1a" stroke-width="0.19" font-style="italic" textLength="22.33" lengthAdjust="spacing">500</text>
<text transform="translate(775.5 415.2) scale(0.86 1)" font-size="13" fill="#1a1a1a" stroke="#1a1a1a" stroke-width="0.19" font-style="italic" textLength="22.33" lengthAdjust="spacing">400</text>
<text transform="translate(876.25 447.6) scale(0.86 1)" font-size="12" fill="#1a1a1a" stroke="#1a1a1a" stroke-width="0.19" font-style="italic" textLength="7.56" lengthAdjust="spacing">2</text>
<text transform="translate(931.75 447.6) scale(0.86 1)" font-size="12" fill="#1a1a1a" stroke="#1a1a1a" stroke-width="0.19" font-style="italic" textLength="7.56" lengthAdjust="spacing">3</text>
<text transform="translate(966.65 447.6) scale(0.86 1)" font-size="12" fill="#1a1a1a" stroke="#1a1a1a" stroke-width="0.19" font-style="italic" textLength="7.56" lengthAdjust="spacing">4</text>
<text transform="translate(994.95 447.6) scale(0.86 1)" font-size="12" fill="#1a1a1a" stroke="#1a1a1a" stroke-width="0.19" font-style="italic" textLength="7.56" lengthAdjust="spacing">5</text>
<text transform="translate(1019.25 447.6) scale(0.86 1)" font-size="12" fill="#1a1a1a" stroke="#1a1a1a" stroke-width="0.19" font-style="italic" textLength="7.56" lengthAdjust="spacing">6</text>
<text transform="translate(1046.15 447.6) scale(0.86 1)" font-size="12" fill="#1a1a1a" stroke="#1a1a1a" stroke-width="0.19" font-style="italic" textLength="7.56" lengthAdjust="spacing">8</text>
<text transform="translate(1062.75 447.6) scale(0.86 1)" font-size="12" fill="#1a1a1a" stroke="#1a1a1a" stroke-width="0.19" font-style="italic" textLength="13.37" lengthAdjust="spacing">10</text>
<text transform="translate(860.8 134.7) scale(0.86 1)" font-size="12.8" fill="#1a1a1a" stroke="#1a1a1a" stroke-width="0.19" font-style="italic" textLength="76.74" lengthAdjust="spacing">Ny=5,5 кВт</text>
<text transform="translate(870.9 158.6) scale(0.86 1)" font-size="12.8" fill="#1a1a1a" stroke="#1a1a1a" stroke-width="0.19" font-style="italic" textLength="51.16" lengthAdjust="spacing">4,0 кВт</text>
<text transform="translate(859 206) scale(0.86 1)" font-size="9.8" fill="#404040" stroke="#404040" stroke-width="0.2" font-style="italic" textLength="46.4" lengthAdjust="spacing">u=60 м/с</text>
<text transform="translate(1106.4 243.8) scale(0.86 1)" font-size="12.8" fill="#1a1a1a" stroke="#1a1a1a" stroke-width="0.19" font-style="italic" textLength="19.53" lengthAdjust="spacing">5,5</text>
<text transform="translate(1106.4 264.8) scale(0.86 1)" font-size="12.8" fill="#1a1a1a" stroke="#1a1a1a" stroke-width="0.19" font-style="italic" textLength="19.53" lengthAdjust="spacing">4,0</text>
<text transform="translate(982.5 391.1) scale(0.86 1)" font-size="12.8" fill="#1a1a1a" stroke="#1a1a1a" stroke-width="0.19" font-style="italic" textLength="76.51" lengthAdjust="spacing">n=2870 мин</text>
<text transform="translate(982.5 403.3) scale(0.86 1)" font-size="12.8" fill="#1a1a1a" stroke="#1a1a1a" stroke-width="0.19" font-style="italic" textLength="44.42" lengthAdjust="spacing">t=20°C</text>
<text transform="translate(982.5 416.4) scale(0.86 1)" font-size="12.8" fill="#1a1a1a" stroke="#1a1a1a" stroke-width="0.19" font-style="italic" textLength="135.35" lengthAdjust="spacing">Рбар=760 мм рт.ст</text>
<text transform="translate(174.7 507.4)" font-size="11" fill="#6e6e6e" stroke="#6e6e6e" stroke-width="0" textLength="251.1" lengthAdjust="spacing">Аэродинамическая характеристика ВЦП 7-40 №5</text>
<text transform="translate(177.4 534) scale(0.86 1)" font-size="14" fill="#1a1a1a" stroke="#1a1a1a" stroke-width="0.19" font-style="italic" textLength="49.07" lengthAdjust="spacing">Pv, Па</text>
<text transform="translate(314 536.7) scale(0.86 1)" font-size="9.8" fill="#404040" stroke="#404040" stroke-width="0.2" font-style="italic" textLength="33.02" lengthAdjust="spacing">η=0,45</text>
<text transform="translate(368.5 536.7) scale(0.86 1)" font-size="9.8" fill="#404040" stroke="#404040" stroke-width="0.2" font-style="italic" textLength="13.95" lengthAdjust="spacing">0,5</text>
<text transform="translate(404.5 536.7) scale(0.86 1)" font-size="9.8" fill="#404040" stroke="#404040" stroke-width="0.2" font-style="italic" textLength="19.77" lengthAdjust="spacing">0,53</text>
<text transform="translate(447.4 536.7) scale(0.86 1)" font-size="9.8" fill="#404040" stroke="#404040" stroke-width="0.2" font-style="italic" textLength="19.77" lengthAdjust="spacing">0,55</text>
<text transform="translate(486.4 536.7) scale(0.86 1)" font-size="9.8" fill="#404040" stroke="#404040" stroke-width="0.2" font-style="italic" textLength="19.77" lengthAdjust="spacing">0,53</text>
<text transform="translate(515.5 536.7) scale(0.86 1)" font-size="9.8" fill="#404040" stroke="#404040" stroke-width="0.2" font-style="italic" textLength="13.95" lengthAdjust="spacing">0,5</text>
<text transform="translate(516 602.7) scale(0.86 1)" font-size="9.8" fill="#404040" stroke="#404040" stroke-width="0.2" font-style="italic" textLength="19.77" lengthAdjust="spacing">0,45</text>
<text transform="translate(175 585.7) scale(0.86 1)" font-size="12.5" fill="#1a1a1a" stroke="#1a1a1a" stroke-width="0.19" font-style="italic" textLength="30.81" lengthAdjust="spacing">5000</text>
<text transform="translate(175 633.1) scale(0.86 1)" font-size="12.5" fill="#1a1a1a" stroke="#1a1a1a" stroke-width="0.19" font-style="italic" textLength="30.81" lengthAdjust="spacing">4000</text>
<text transform="translate(175 692.7) scale(0.86 1)" font-size="12.5" fill="#1a1a1a" stroke="#1a1a1a" stroke-width="0.19" font-style="italic" textLength="30.81" lengthAdjust="spacing">3000</text>
<text transform="translate(175 776.1) scale(0.86 1)" font-size="12.5" fill="#1a1a1a" stroke="#1a1a1a" stroke-width="0.19" font-style="italic" textLength="30.81" lengthAdjust="spacing">2000</text>
<text transform="translate(175 919.3) scale(0.86 1)" font-size="12.5" fill="#1a1a1a" stroke="#1a1a1a" stroke-width="0.19" font-style="italic" textLength="30.81" lengthAdjust="spacing">1000</text>
<text transform="translate(205.85 933) scale(0.86 1)" font-size="12" fill="#1a1a1a" stroke="#1a1a1a" stroke-width="0.19" font-style="italic" textLength="7.56" lengthAdjust="spacing">2</text>
<text transform="translate(273.25 933) scale(0.86 1)" font-size="12" fill="#1a1a1a" stroke="#1a1a1a" stroke-width="0.19" font-style="italic" textLength="7.56" lengthAdjust="spacing">3</text>
<text transform="translate(320.25 933) scale(0.86 1)" font-size="12" fill="#1a1a1a" stroke="#1a1a1a" stroke-width="0.19" font-style="italic" textLength="7.56" lengthAdjust="spacing">4</text>
<text transform="translate(355.85 933) scale(0.86 1)" font-size="12" fill="#1a1a1a" stroke="#1a1a1a" stroke-width="0.19" font-style="italic" textLength="7.56" lengthAdjust="spacing">5</text>
<text transform="translate(385.35 933) scale(0.86 1)" font-size="12" fill="#1a1a1a" stroke="#1a1a1a" stroke-width="0.19" font-style="italic" textLength="7.56" lengthAdjust="spacing">6</text>
<text transform="translate(411.45 933) scale(0.86 1)" font-size="12" fill="#1a1a1a" stroke="#1a1a1a" stroke-width="0.19" font-style="italic" textLength="7.56" lengthAdjust="spacing">7</text>
<text transform="translate(432.25 933) scale(0.86 1)" font-size="12" fill="#1a1a1a" stroke="#1a1a1a" stroke-width="0.19" font-style="italic" textLength="7.56" lengthAdjust="spacing">8</text>
<text transform="translate(451.75 933) scale(0.86 1)" font-size="12" fill="#1a1a1a" stroke="#1a1a1a" stroke-width="0.19" font-style="italic" textLength="7.56" lengthAdjust="spacing">9</text>
<text transform="translate(466.8 933) scale(0.86 1)" font-size="12" fill="#1a1a1a" stroke="#1a1a1a" stroke-width="0.19" font-style="italic" textLength="13.95" lengthAdjust="spacing">10</text>
<text transform="translate(521.2 933) scale(0.86 1)" font-size="12" fill="#1a1a1a" stroke="#1a1a1a" stroke-width="0.19" font-style="italic" textLength="13.95" lengthAdjust="spacing">14</text>
<text transform="translate(249.8 561.5) scale(0.86 1)" font-size="12.8" fill="#1a1a1a" stroke="#1a1a1a" stroke-width="0.19" font-style="italic" textLength="78.95" lengthAdjust="spacing">Ny=15 кВт</text>
<text transform="translate(261.4 602.2) scale(0.86 1)" font-size="12.8" fill="#1a1a1a" stroke="#1a1a1a" stroke-width="0.19" font-style="italic" textLength="47.91" lengthAdjust="spacing">11 кВт</text>
<text transform="translate(230.4 655.2) scale(0.86 1)" font-size="12.8" fill="#1a1a1a" stroke="#1a1a1a" stroke-width="0.19" font-style="italic" textLength="54.53" lengthAdjust="spacing">7,5 кВт</text>
<text transform="translate(216.5 698.6) scale(0.86 1)" font-size="12.8" fill="#1a1a1a" stroke="#1a1a1a" stroke-width="0.19" font-style="italic" textLength="55.47" lengthAdjust="spacing">5,5 кВт</text>
<text transform="translate(288.7 663.9) rotate(9.5) scale(0.86 1)" font-size="12.8" fill="#1a1a1a" stroke="#1a1a1a" stroke-width="0.19" font-style="italic" textLength="79.77" lengthAdjust="spacing">n=2575 мин</text>
<text transform="translate(273.2 708.5) rotate(9.3) scale(0.86 1)" font-size="12.8" fill="#1a1a1a" stroke="#1a1a1a" stroke-width="0.19" font-style="italic" textLength="80.47" lengthAdjust="spacing">n=2285 мин</text>
<text transform="translate(252.8 763.9) rotate(4) scale(0.86 1)" font-size="12.8" fill="#1a1a1a" stroke="#1a1a1a" stroke-width="0.19" font-style="italic" textLength="80" lengthAdjust="spacing">n=2030 мин</text>
<text transform="translate(232.8 810.4) rotate(3.3) scale(0.86 1)" font-size="12.8" fill="#1a1a1a" stroke="#1a1a1a" stroke-width="0.19" font-style="italic" textLength="78.84" lengthAdjust="spacing">n=1810 мин</text>
<text transform="translate(477.9 751.1) scale(0.86 1)" font-size="11" fill="#1a1a1a" stroke="#1a1a1a" stroke-width="0.19" font-style="italic" textLength="35.35" lengthAdjust="spacing">48 м/с</text>
<text transform="translate(459.5 800.3) scale(0.86 1)" font-size="11" fill="#1a1a1a" stroke="#1a1a1a" stroke-width="0.19" font-style="italic" textLength="35.81" lengthAdjust="spacing">42 м/с</text>
<text transform="translate(440.3 848.6) scale(0.86 1)" font-size="11" fill="#1a1a1a" stroke="#1a1a1a" stroke-width="0.19" font-style="italic" textLength="34.77" lengthAdjust="spacing">38 м/с</text>
<text transform="translate(419 893.75) scale(0.86 1)" font-size="11" fill="#1a1a1a" stroke="#1a1a1a" stroke-width="0.19" font-style="italic" textLength="49.42" lengthAdjust="spacing">u=34 м/с</text>
<text transform="translate(591.4 509.8)" font-size="11" fill="#6e6e6e" stroke="#6e6e6e" stroke-width="0" textLength="261.2" lengthAdjust="spacing">Аэродинамическая характеристика ВЦП 7-40 №6,3</text>
<text transform="translate(592.5 534.5) scale(0.86 1)" font-size="14" fill="#1a1a1a" stroke="#1a1a1a" stroke-width="0.19" font-style="italic" textLength="44.77" lengthAdjust="spacing">Pv, Па</text>
<text transform="translate(715.7 537.3) scale(0.86 1)" font-size="9.8" fill="#404040" stroke="#404040" stroke-width="0.2" font-style="italic" textLength="30.81" lengthAdjust="spacing">η=0,45</text>
<text transform="translate(804.4 537.3) scale(0.86 1)" font-size="9.8" fill="#404040" stroke="#404040" stroke-width="0.2" font-style="italic" textLength="13.95" lengthAdjust="spacing">0,5</text>
<text transform="translate(830 537.3) scale(0.86 1)" font-size="9.8" fill="#404040" stroke="#404040" stroke-width="0.2" font-style="italic" textLength="19.77" lengthAdjust="spacing">0,54</text>
<text transform="translate(864.8 537.3) scale(0.86 1)" font-size="9.8" fill="#404040" stroke="#404040" stroke-width="0.2" font-style="italic" textLength="19.77" lengthAdjust="spacing">0,56</text>
<text transform="translate(908.8 537.3) scale(0.86 1)" font-size="9.8" fill="#404040" stroke="#404040" stroke-width="0.2" font-style="italic" textLength="19.77" lengthAdjust="spacing">0,54</text>
<text transform="translate(928.3 594.5)" font-size="14" fill="#1a1a1a" stroke="#1a1a1a" stroke-width="0.22" font-style="italic" textLength="15.9" lengthAdjust="spacingAndGlyphs">0,5</text>
<text transform="translate(928.1 678.7)" font-size="14" fill="#1a1a1a" stroke="#1a1a1a" stroke-width="0.22" font-style="italic" textLength="22.8" lengthAdjust="spacingAndGlyphs">0,45</text>
<text transform="translate(591.4 580.1) scale(0.86 1)" font-size="12.5" fill="#1a1a1a" stroke="#1a1a1a" stroke-width="0.19" font-style="italic" textLength="29.42" lengthAdjust="spacing">5000</text>
<text transform="translate(591.4 622.8) scale(0.86 1)" font-size="12.5" fill="#1a1a1a" stroke="#1a1a1a" stroke-width="0.19" font-style="italic" textLength="29.42" lengthAdjust="spacing">4000</text>
<text transform="translate(591.4 676.9) scale(0.86 1)" font-size="12.5" fill="#1a1a1a" stroke="#1a1a1a" stroke-width="0.19" font-style="italic" textLength="29.42" lengthAdjust="spacing">3000</text>
<text transform="translate(591.4 752.1) scale(0.86 1)" font-size="12.5" fill="#1a1a1a" stroke="#1a1a1a" stroke-width="0.19" font-style="italic" textLength="29.42" lengthAdjust="spacing">2000</text>
<text transform="translate(591.4 848.6) scale(0.86 1)" font-size="12.5" fill="#1a1a1a" stroke="#1a1a1a" stroke-width="0.19" font-style="italic" textLength="29.42" lengthAdjust="spacing">1000</text>
<text transform="translate(620.05 861.4) scale(0.86 1)" font-size="12" fill="#1a1a1a" stroke="#1a1a1a" stroke-width="0.19" font-style="italic" textLength="7.56" lengthAdjust="spacing">4</text>
<text transform="translate(659.85 861.4) scale(0.86 1)" font-size="12" fill="#1a1a1a" stroke="#1a1a1a" stroke-width="0.19" font-style="italic" textLength="7.56" lengthAdjust="spacing">5</text>
<text transform="translate(696.15 861.4) scale(0.86 1)" font-size="12" fill="#1a1a1a" stroke="#1a1a1a" stroke-width="0.19" font-style="italic" textLength="7.56" lengthAdjust="spacing">6</text>
<text transform="translate(723.15 861.4) scale(0.86 1)" font-size="12" fill="#1a1a1a" stroke="#1a1a1a" stroke-width="0.19" font-style="italic" textLength="7.56" lengthAdjust="spacing">7</text>
<text transform="translate(749.55 861.4) scale(0.86 1)" font-size="12" fill="#1a1a1a" stroke="#1a1a1a" stroke-width="0.19" font-style="italic" textLength="7.56" lengthAdjust="spacing">8</text>
<text transform="translate(772.55 861.4) scale(0.86 1)" font-size="12" fill="#1a1a1a" stroke="#1a1a1a" stroke-width="0.19" font-style="italic" textLength="7.56" lengthAdjust="spacing">9</text>
<text transform="translate(788.7 861.4) scale(0.86 1)" font-size="12" fill="#1a1a1a" stroke="#1a1a1a" stroke-width="0.19" font-style="italic" textLength="13.95" lengthAdjust="spacing">10</text>
<text transform="translate(851.2 861.4) scale(0.86 1)" font-size="12" fill="#1a1a1a" stroke="#1a1a1a" stroke-width="0.19" font-style="italic" textLength="13.95" lengthAdjust="spacing">14</text>
<text transform="translate(916.8 861.4) scale(0.86 1)" font-size="12" fill="#1a1a1a" stroke="#1a1a1a" stroke-width="0.19" font-style="italic" textLength="13.95" lengthAdjust="spacing">20</text>
<text transform="translate(646.9 572.5) scale(0.86 1)" font-size="12.8" fill="#1a1a1a" stroke="#1a1a1a" stroke-width="0.19" font-style="italic" textLength="73.6" lengthAdjust="spacing">Ny=22 кВт</text>
<text transform="translate(647.8 595.4) scale(0.86 1)" font-size="12.8" fill="#1a1a1a" stroke="#1a1a1a" stroke-width="0.19" font-style="italic" textLength="59.77" lengthAdjust="spacing">18,5 кВт</text>
<text transform="translate(645.1 622) scale(0.86 1)" font-size="12.8" fill="#1a1a1a" stroke="#1a1a1a" stroke-width="0.19" font-style="italic" textLength="46.86" lengthAdjust="spacing">15 кВт</text>
<text transform="translate(627.3 660.5) scale(0.86 1)" font-size="12.8" fill="#1a1a1a" stroke="#1a1a1a" stroke-width="0.19" font-style="italic" textLength="45.23" lengthAdjust="spacing">11 кВт</text>
<text transform="translate(693 648.5) scale(0.86 1)" font-size="12.8" fill="#1a1a1a" stroke="#1a1a1a" stroke-width="0.19" font-style="italic" textLength="77.44" lengthAdjust="spacing">n=2040 мин</text>
<text transform="translate(670.2 693.2) scale(0.86 1)" font-size="12.8" fill="#1a1a1a" stroke="#1a1a1a" stroke-width="0.19" font-style="italic" textLength="76.51" lengthAdjust="spacing">n=1810 мин</text>
<text transform="translate(650.3 734.9) scale(0.86 1)" font-size="12.8" fill="#1a1a1a" stroke="#1a1a1a" stroke-width="0.19" font-style="italic" textLength="77.21" lengthAdjust="spacing">n=1615 мин</text>
<text transform="translate(907.6 726.8) scale(0.86 1)" font-size="10" fill="#1a1a1a" stroke="#1a1a1a" stroke-width="0.2" font-style="italic" textLength="11.05" lengthAdjust="spacing">47</text>
<text transform="translate(886.3 771.5) scale(0.86 1)" font-size="10" fill="#1a1a1a" stroke="#1a1a1a" stroke-width="0.2" font-style="italic" textLength="32.56" lengthAdjust="spacing">42 м/с</text>
<text transform="translate(864.5 815.8) scale(0.86 1)" font-size="10" fill="#1a1a1a" stroke="#1a1a1a" stroke-width="0.2" font-style="italic" textLength="46.16" lengthAdjust="spacing">u=37 м/с</text>
<text transform="translate(533.6 468.1)" font-size="13.82" fill="#1a1a1a" stroke="#1a1a1a" stroke-width="0.22" font-style="italic" textLength="11.84" lengthAdjust="spacingAndGlyphs">Q,</text>
<text transform="translate(553.83 468.1)" font-size="13.82" fill="#1a1a1a" stroke="#1a1a1a" stroke-width="0.22" font-style="italic" textLength="12.83" lengthAdjust="spacingAndGlyphs">10</text>
<text transform="translate(567.36 463.17)" font-size="7.4" fill="#1a1a1a" stroke="#1a1a1a" stroke-width="0.2" font-style="italic">3</text>
<text transform="translate(572.88 468.1)" font-size="13.82" fill="#1a1a1a" stroke="#1a1a1a" stroke-width="0">·</text>
<text transform="translate(577.42 468.1) scale(0.86 1)" font-size="13.82" fill="#1a1a1a" stroke="#1a1a1a" stroke-width="0.19" font-style="italic" textLength="11.25" lengthAdjust="spacing">м</text>
<text transform="translate(587.49 463.17)" font-size="7.4" fill="#1a1a1a" stroke="#1a1a1a" stroke-width="0.2" font-style="italic">3</text>
<text transform="translate(591.04 468.1) scale(0.86 1)" font-size="13.82" fill="#1a1a1a" stroke="#1a1a1a" stroke-width="0.19" font-style="italic" textLength="12.62" lengthAdjust="spacing">/ч</text>
<text transform="translate(915 468.6)" font-size="14" fill="#1a1a1a" stroke="#1a1a1a" stroke-width="0.22" font-style="italic" textLength="12" lengthAdjust="spacingAndGlyphs">Q,</text>
<text transform="translate(935.5 468.6)" font-size="14" fill="#1a1a1a" stroke="#1a1a1a" stroke-width="0.22" font-style="italic" textLength="13" lengthAdjust="spacingAndGlyphs">10</text>
<text transform="translate(949.2 463.6)" font-size="7.5" fill="#1a1a1a" stroke="#1a1a1a" stroke-width="0.2" font-style="italic">3</text>
<text transform="translate(954.8 468.6)" font-size="14" fill="#1a1a1a" stroke="#1a1a1a" stroke-width="0">·</text>
<text transform="translate(959.4 468.6) scale(0.86 1)" font-size="14" fill="#1a1a1a" stroke="#1a1a1a" stroke-width="0.19" font-style="italic" textLength="11.4" lengthAdjust="spacing">м</text>
<text transform="translate(969.6 463.6)" font-size="7.5" fill="#1a1a1a" stroke="#1a1a1a" stroke-width="0.2" font-style="italic">3</text>
<text transform="translate(973.2 468.6) scale(0.86 1)" font-size="14" fill="#1a1a1a" stroke="#1a1a1a" stroke-width="0.19" font-style="italic" textLength="12.79" lengthAdjust="spacing">/ч</text>
<text transform="translate(328.1 959.6)" font-size="15.17" fill="#1a1a1a" stroke="#1a1a1a" stroke-width="0.22" font-style="italic" textLength="13.01" lengthAdjust="spacingAndGlyphs">Q,</text>
<text transform="translate(350.32 959.6)" font-size="15.17" fill="#1a1a1a" stroke="#1a1a1a" stroke-width="0.22" font-style="italic" textLength="14.09" lengthAdjust="spacingAndGlyphs">10</text>
<text transform="translate(365.17 954.18)" font-size="8.13" fill="#1a1a1a" stroke="#1a1a1a" stroke-width="0.2" font-style="italic">3</text>
<text transform="translate(371.24 959.6)" font-size="15.17" fill="#1a1a1a" stroke="#1a1a1a" stroke-width="0">·</text>
<text transform="translate(376.22 959.6) scale(0.86 1)" font-size="15.17" fill="#1a1a1a" stroke="#1a1a1a" stroke-width="0.19" font-style="italic" textLength="12.35" lengthAdjust="spacing">м</text>
<text transform="translate(387.28 954.18)" font-size="8.13" fill="#1a1a1a" stroke="#1a1a1a" stroke-width="0.2" font-style="italic">3</text>
<text transform="translate(391.18 959.6) scale(0.86 1)" font-size="15.17" fill="#1a1a1a" stroke="#1a1a1a" stroke-width="0.19" font-style="italic" textLength="13.86" lengthAdjust="spacing">/ч</text>
<text transform="translate(734.7 882)" font-size="14.06" fill="#1a1a1a" stroke="#1a1a1a" stroke-width="0.22" font-style="italic" textLength="12.05" lengthAdjust="spacingAndGlyphs">Q,</text>
<text transform="translate(755.29 882)" font-size="14.06" fill="#1a1a1a" stroke="#1a1a1a" stroke-width="0.22" font-style="italic" textLength="13.06" lengthAdjust="spacingAndGlyphs">10</text>
<text transform="translate(769.05 876.98)" font-size="7.53" fill="#1a1a1a" stroke="#1a1a1a" stroke-width="0.2" font-style="italic">3</text>
<text transform="translate(774.67 882)" font-size="14.06" fill="#1a1a1a" stroke="#1a1a1a" stroke-width="0">·</text>
<text transform="translate(779.29 882) scale(0.86 1)" font-size="14.06" fill="#1a1a1a" stroke="#1a1a1a" stroke-width="0.19" font-style="italic" textLength="11.44" lengthAdjust="spacing">м</text>
<text transform="translate(789.54 876.98)" font-size="7.53" fill="#1a1a1a" stroke="#1a1a1a" stroke-width="0.2" font-style="italic">3</text>
<text transform="translate(793.15 882) scale(0.86 1)" font-size="14.06" fill="#1a1a1a" stroke="#1a1a1a" stroke-width="0.19" font-style="italic" textLength="12.85" lengthAdjust="spacing">/ч</text>
<text transform="translate(289.7 344.6)" font-size="8.5" fill="#1a1a1a" stroke="#1a1a1a" stroke-width="0.2" font-style="italic">-</text>
<text transform="translate(293 344.4)" font-size="8" fill="#1a1a1a" stroke="#1a1a1a" stroke-width="0.2" font-style="italic">1</text>
<text transform="translate(666.4 355)" font-size="8.5" fill="#1a1a1a" stroke="#1a1a1a" stroke-width="0.2" font-style="italic">-</text>
<text transform="translate(669.7 354.8)" font-size="8" fill="#1a1a1a" stroke="#1a1a1a" stroke-width="0.2" font-style="italic">1</text>
<text transform="translate(1049.55 387.7)" font-size="8.5" fill="#1a1a1a" stroke="#1a1a1a" stroke-width="0.2" font-style="italic">-</text>
<text transform="translate(1052.85 387.5)" font-size="8" fill="#1a1a1a" stroke="#1a1a1a" stroke-width="0.2" font-style="italic">1</text>
<text transform="translate(760.1 644.2)" font-size="8.5" fill="#1a1a1a" stroke="#1a1a1a" stroke-width="0.2" font-style="italic">-</text>
<text transform="translate(763.4 644)" font-size="8" fill="#1a1a1a" stroke="#1a1a1a" stroke-width="0.2" font-style="italic">1</text>
<text transform="translate(737.5 689)" font-size="8.5" fill="#1a1a1a" stroke="#1a1a1a" stroke-width="0.2" font-style="italic">-</text>
<text transform="translate(740.8 688.8)" font-size="8" fill="#1a1a1a" stroke="#1a1a1a" stroke-width="0.2" font-style="italic">1</text>
<text transform="translate(718.5 730.4)" font-size="8.5" fill="#1a1a1a" stroke="#1a1a1a" stroke-width="0.2" font-style="italic">-</text>
<text transform="translate(721.8 730.2)" font-size="8" fill="#1a1a1a" stroke="#1a1a1a" stroke-width="0.2" font-style="italic">1</text>
<text transform="translate(361.3 672.8)" font-size="8.5" fill="#1a1a1a" stroke="#1a1a1a" stroke-width="0.2" font-style="italic">-</text>
<text transform="translate(364.6 672.6)" font-size="8" fill="#1a1a1a" stroke="#1a1a1a" stroke-width="0.2" font-style="italic">1</text>
<text transform="translate(345.4 716.9)" font-size="8.5" fill="#1a1a1a" stroke="#1a1a1a" stroke-width="0.2" font-style="italic">-</text>
<text transform="translate(348.7 716.7)" font-size="8" fill="#1a1a1a" stroke="#1a1a1a" stroke-width="0.2" font-style="italic">1</text>
<text transform="translate(325.8 764.5)" font-size="8.5" fill="#1a1a1a" stroke="#1a1a1a" stroke-width="0.2" font-style="italic">-</text>
<text transform="translate(329.1 764.3)" font-size="8" fill="#1a1a1a" stroke="#1a1a1a" stroke-width="0.2" font-style="italic">1</text>
<text transform="translate(305 810.2)" font-size="8.5" fill="#1a1a1a" stroke="#1a1a1a" stroke-width="0.2" font-style="italic">-</text>
<text transform="translate(308.3 810)" font-size="8" fill="#1a1a1a" stroke="#1a1a1a" stroke-width="0.2" font-style="italic">1</text>
</svg></body></html>
